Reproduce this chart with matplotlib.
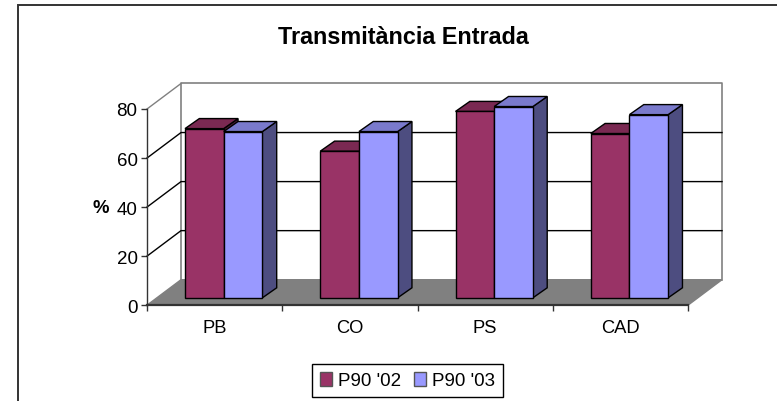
import matplotlib
matplotlib.use('Agg')
import matplotlib.pyplot as plt
from matplotlib.patches import Polygon, Rectangle

categories = ['PB', 'CO', 'PS', 'CAD']
p90_02 = [69, 59.8, 76, 67]
p90_03 = [67.8, 67.8, 78, 74.7]
y_ticks = [0, 20, 40, 60, 80]

W, H = 777, 402
plt.rcParams['font.family'] = ['Liberation Sans', 'DejaVu Sans']

fig = plt.figure(figsize=(W / 100, H / 100), dpi=100)
fig.patch.set_facecolor('white')

# chart frame, runs off the right and bottom of the image
fig.add_artist(Rectangle((18 / W, -0.1), 1.0, 1.1 - 6 / H, transform=fig.transFigure,
                         fc='white', ec='#333333', lw=1.4, zorder=-1))

# front plane of the fake 3d box
left, right, bottom, top = 147, 688, 306.2, 110
ax = fig.add_axes([left / W, 1 - bottom / H, (right - left) / W, (bottom - top) / H])
ax.set_xlim(0, len(categories))
ax.set_ylim(0, 80)
ax.patch.set_visible(False)

# depth of the box, and of the bars, in data units
dx, dy = 0.2515, 10.4
bar_w = 0.286
bar_dx, bar_dy = 0.106, 4.1
bar_off_x, bar_off_y = 0.281, 3.0

wall = '#808080'

def poly(pts, fc, ec='black', lw=1.0, z=3):
    ax.add_patch(Polygon(pts, closed=True, fc=fc, ec=ec, lw=lw, zorder=z, clip_on=False, joinstyle='miter'))

# floor and walls
poly([(0, 0), (4, 0), (4 + dx, dy), (dx, dy)], wall, ec=wall, z=1)
ax.plot([dx, dx, 4 + dx, 4 + dx], [dy, 80 + dy, 80 + dy, dy], color='#808080', lw=1.2, clip_on=False, zorder=1)
ax.plot([0, dx], [80, 80 + dy], color='#808080', lw=1.0, clip_on=False, zorder=1)

# gridlines run along the left wall and across the back wall
for t in y_ticks[1:-1]:
    ax.plot([0, dx, 4 + dx], [t, t + dy, t + dy], color='black', lw=1.0, clip_on=False, zorder=2)

def draw_bar(x0, value, front, top_c, side):
    x0 = x0 + bar_off_x
    x1 = x0 + bar_w
    y0 = bar_off_y
    y1 = y0 + value
    poly([(x1, y0), (x1 + bar_dx, y0 + bar_dy), (x1 + bar_dx, y1 + bar_dy), (x1, y1)], side)
    poly([(x0, y1), (x1, y1), (x1 + bar_dx, y1 + bar_dy), (x0 + bar_dx, y1 + bar_dy)], top_c)
    poly([(x0, y0), (x1, y0), (x1, y1), (x0, y1)], front)

for i in range(len(categories)):
    draw_bar(i, p90_02[i], '#993366', '#7A2952', '#4D1A33')
    draw_bar(i + bar_w, p90_03[i], '#9999FF', '#7A7ACC', '#4D4D80')

# axes lines and ticks
for s in ['top', 'right']:
    ax.spines[s].set_visible(False)
ax.spines['left'].set_linewidth(1.0)
ax.spines['left'].set_color('#333333')
ax.spines['bottom'].set_linewidth(1.6)
ax.spines['bottom'].set_color('#333333')
ax.spines['bottom'].set_zorder(5)
ax.set_yticks(y_ticks)
ax.set_xticks(range(len(categories) + 1))
ax.set_xticklabels([])
ax.set_xticks([i + 0.5 for i in range(len(categories))], minor=True)
ax.set_xticklabels(categories, minor=True, fontsize=13.2, color='black')
ax.tick_params(axis='x', which='major', length=4.3, width=1, color='#333333')
ax.tick_params(axis='x', which='minor', length=0, pad=10)
ax.tick_params(axis='y', length=4.3, width=1, color='#333333', labelsize=13.5, pad=2.5)
ax.set_ylabel('%', fontsize=13.3, fontweight='bold', rotation=0, ha='center', va='center')
ax.yaxis.set_label_coords(-0.085, 0.5)

fig.text(403.5 / W, 1 - 37.5 / H, 'Transmitància Entrada', fontsize=16.8, fontweight='bold', ha='center', va='center')

# legend
handles = [Rectangle((0, 0), 1, 1, fc='#993366', ec='#555555'),
           Rectangle((0, 0), 1, 1, fc='#9999FF', ec='#555555')]
leg = fig.legend(handles, ["P90 '02", "P90 '03"], loc='center', bbox_to_anchor=(407.5 / W, 1 - 381.5 / H),
                 ncol=2, fontsize=13.5, frameon=True, fancybox=False, edgecolor='black', framealpha=1,
                 handlelength=0.65, handleheight=0.8, handletextpad=0.35, columnspacing=0.65,
                 borderpad=0.4, borderaxespad=0)
leg.get_frame().set_linewidth(1.0)

fig.savefig('out.png', dpi=100)
